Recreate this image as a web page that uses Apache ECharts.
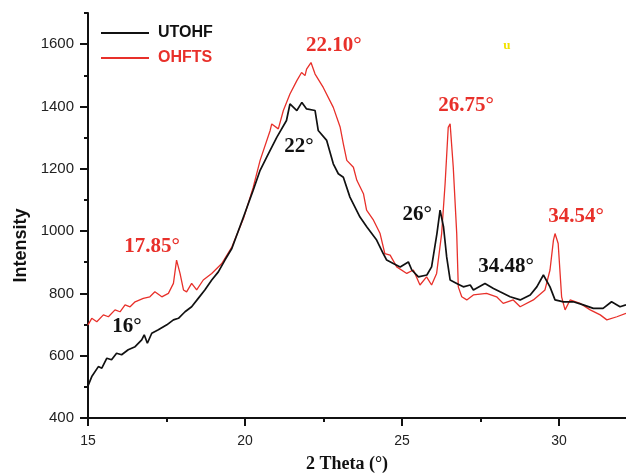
<!DOCTYPE html>
<html>
<head>
<meta charset="utf-8">
<script src="https://cdn.jsdelivr.net/npm/echarts@6/dist/echarts.min.js"></script>
<style>
html,body{margin:0;padding:0;background:#fff;}
#chart{width:626px;height:476px;}
</style>
</head>
<body>
<div id="chart"></div>
<script>
// ---- Data ----
var seriesNames = ['UTOHF', 'OHFTS'];

var utohfTheta = [15.00,15.12,15.33,15.44,15.60,15.75,15.91,16.07,16.28,16.50,16.71,16.79,16.89,17.03,17.24,17.51,17.72,17.88,18.09,18.30,18.51,18.72,18.94,19.15,19.36,19.58,19.95,20.26,20.48,20.69,21.01,21.32,21.43,21.65,21.81,21.96,22.23,22.33,22.60,22.81,22.97,23.13,23.34,23.66,23.88,24.19,24.40,24.51,24.72,24.94,25.20,25.31,25.52,25.79,25.94,26.11,26.21,26.32,26.42,26.53,26.74,26.95,27.17,27.27,27.64,27.91,28.12,28.44,28.76,29.08,29.29,29.50,29.71,29.87,30.14,30.45,30.77,31.09,31.40,31.67,31.94,32.13];
var utohfIntensity = [503,533,565,560,592,587,608,603,619,629,651,667,640,672,683,699,715,720,741,757,784,811,843,869,907,944,1045,1131,1195,1237,1301,1355,1408,1387,1413,1392,1387,1323,1291,1216,1184,1173,1109,1045,1013,971,928,907,896,885,901,875,853,859,885,992,1067,1013,917,843,832,821,827,811,832,816,805,789,779,795,821,859,821,779,773,773,763,752,752,773,757,763];

var ohftsTheta = [15.00,15.12,15.28,15.49,15.65,15.86,16.02,16.18,16.34,16.50,16.76,16.97,17.13,17.35,17.56,17.72,17.82,17.93,18.04,18.14,18.30,18.46,18.67,18.94,19.26,19.58,19.95,20.26,20.48,20.80,20.85,21.06,21.22,21.43,21.65,21.80,21.91,21.96,22.10,22.23,22.49,22.81,23.03,23.13,23.24,23.45,23.56,23.77,23.87,24.09,24.30,24.45,24.62,24.83,25.15,25.36,25.57,25.78,25.94,26.10,26.26,26.37,26.47,26.53,26.63,26.74,26.79,26.90,27.06,27.27,27.69,28.01,28.22,28.54,28.76,29.18,29.55,29.71,29.82,29.87,29.97,30.08,30.19,30.35,30.67,30.99,31.31,31.52,31.84,32.13];
var ohftsIntensity = [699,720,709,731,725,747,741,763,757,773,784,789,805,789,800,832,907,864,811,805,832,811,843,864,896,949,1040,1140,1227,1323,1344,1328,1387,1440,1483,1509,1499,1520,1541,1504,1461,1397,1333,1280,1227,1205,1163,1120,1067,1035,992,928,923,885,864,875,827,853,827,864,992,1152,1333,1344,1205,992,821,789,779,795,800,789,768,779,757,779,811,875,971,992,960,789,747,779,768,747,731,715,725,736];

var xMajorTicks = [15, 20, 25, 30];
var xMinorTicks = [17.5, 22.5, 27.5];
var yMajorTicks = [400, 600, 800, 1000, 1200, 1400, 1600];
var yMinorTicks = [500, 700, 900, 1100, 1300, 1500, 1700];

// peak annotations: text, position in data coords, colour key
var annoText  = ['22.10°', '26.75°', '34.54°', '17.85°', '22°', '26°', '34.48°', '16°', 'u'];
var annoTheta = [22.83, 27.04, 30.54, 17.04, 21.72, 25.48, 28.31, 16.24, 28.34];
var annoInt   = [1595, 1403, 1045, 951, 1271, 1053, 887, 692, 1594];
var annoKind  = ['red','red','red','red','black','black','black','black','yellow'];

// ---- Chart ----
var RED = '#e8302a';
var SANS = '"Liberation Sans", Arial, sans-serif';
var SERIF = '"Liberation Serif", "Times New Roman", serif';

function pairs(xs, ys){ return xs.map(function(x,i){ return [x, ys[i]]; }); }

var chart = echarts.init(document.getElementById('chart'), null, {renderer:'canvas'});
var xMin = 15, xMax = 32.13, yMin = 400, yMax = 1700;

var option = {
  animation: false,
  backgroundColor: '#fff',
  grid: { left: 88, right: 0, top: 13, bottom: 58, containLabel: false, outerBoundsMode: 'none' },
  legend: {
    orient: 'vertical', left: 100, top: 25, padding: 0, itemWidth: 48, itemHeight: 14, itemGap: 9,
    itemStyle: { opacity: 0 },
    data: [
      { name: seriesNames[0], textStyle: { color: '#111' } },
      { name: seriesNames[1], textStyle: { color: RED } }
    ],
    textStyle: { fontFamily: SANS, fontWeight: 'bold', fontSize: 16, padding: [0,0,0,4] }
  },
  xAxis: [
    {
      type: 'value', min: xMin, max: xMax, interval: 5, position: 'bottom',
      name: '2 Theta (°)', nameLocation: 'middle', nameGap: 37,
      nameTextStyle: { fontFamily: SERIF, fontWeight: 'bold', fontSize: 18, color: '#111', padding: [0,20,0,0] },
      axisLine: { show: true, lineStyle: { color: '#111', width: 2 } },
      axisTick: { show: true, length: 8, lineStyle: { color: '#111', width: 2 }, customValues: xMajorTicks },
      axisLabel: { fontFamily: SANS, fontSize: 14, color: '#222', margin: 16, customValues: xMajorTicks },
      splitLine: { show: false }
    },
    {
      type: 'value', min: xMin, max: xMax, interval: 2.5, position: 'bottom',
      axisLine: { show: false },
      axisTick: { show: true, length: 4, lineStyle: { color: '#111', width: 2 }, customValues: xMinorTicks },
      axisLabel: { show: false },
      splitLine: { show: false }
    }
  ],
  yAxis: [
    {
      type: 'value', min: yMin, max: yMax, interval: 100, position: 'left',
      name: 'Intensity', nameLocation: 'middle', nameGap: 56, nameRotate: 90,
      nameTextStyle: { fontFamily: SANS, fontWeight: 'bold', fontSize: 18, color: '#111', padding: [0,60,0,0] },
      axisLine: { show: true, lineStyle: { color: '#111', width: 2 } },
      axisTick: { show: true, length: 8, lineStyle: { color: '#111', width: 2 }, customValues: yMajorTicks },
      axisLabel: { fontFamily: SANS, fontSize: 15, color: '#222', margin: 14, customValues: yMajorTicks,
                   formatter: function(v){ return String(v); } },
      splitLine: { show: false }
    },
    {
      type: 'value', min: yMin, max: yMax, interval: 100, position: 'left',
      axisLine: { show: false },
      axisTick: { show: true, length: 4, lineStyle: { color: '#111', width: 2 }, customValues: yMinorTicks },
      axisLabel: { show: false },
      splitLine: { show: false }
    }
  ],
  series: [
    {
      name: seriesNames[0], type: 'line', xAxisIndex: 0, yAxisIndex: 0,
      data: pairs(utohfTheta, utohfIntensity), symbol: 'none', smooth: false,
      lineStyle: { color: '#111', width: 1.7 }, itemStyle: { color: '#111' }, z: 3
    },
    {
      name: seriesNames[1], type: 'line', xAxisIndex: 0, yAxisIndex: 0,
      data: pairs(ohftsTheta, ohftsIntensity), symbol: 'none', smooth: false,
      lineStyle: { color: RED, width: 1.3 }, itemStyle: { color: RED }, z: 2
    }
  ]
};
chart.setOption(option);

// place peak annotations from their data coordinates
var colours = { red: RED, black: '#111', yellow: '#f2e200' };
var graphics = annoText.map(function(t, i){
  var p = chart.convertToPixel({ xAxisIndex: 0, yAxisIndex: 0 }, [annoTheta[i], annoInt[i]]);
  var isU = annoKind[i] === 'yellow';
  return {
    type: 'text', x: p[0], y: p[1], z: 10,
    style: {
      text: t, fill: colours[annoKind[i]],
      font: 'bold ' + (isU ? 13 : 21) + 'px ' + SERIF,
      textAlign: 'center', textVerticalAlign: 'middle'
    }
  };
});
chart.setOption({ graphic: graphics });
</script>
</body>
</html>
